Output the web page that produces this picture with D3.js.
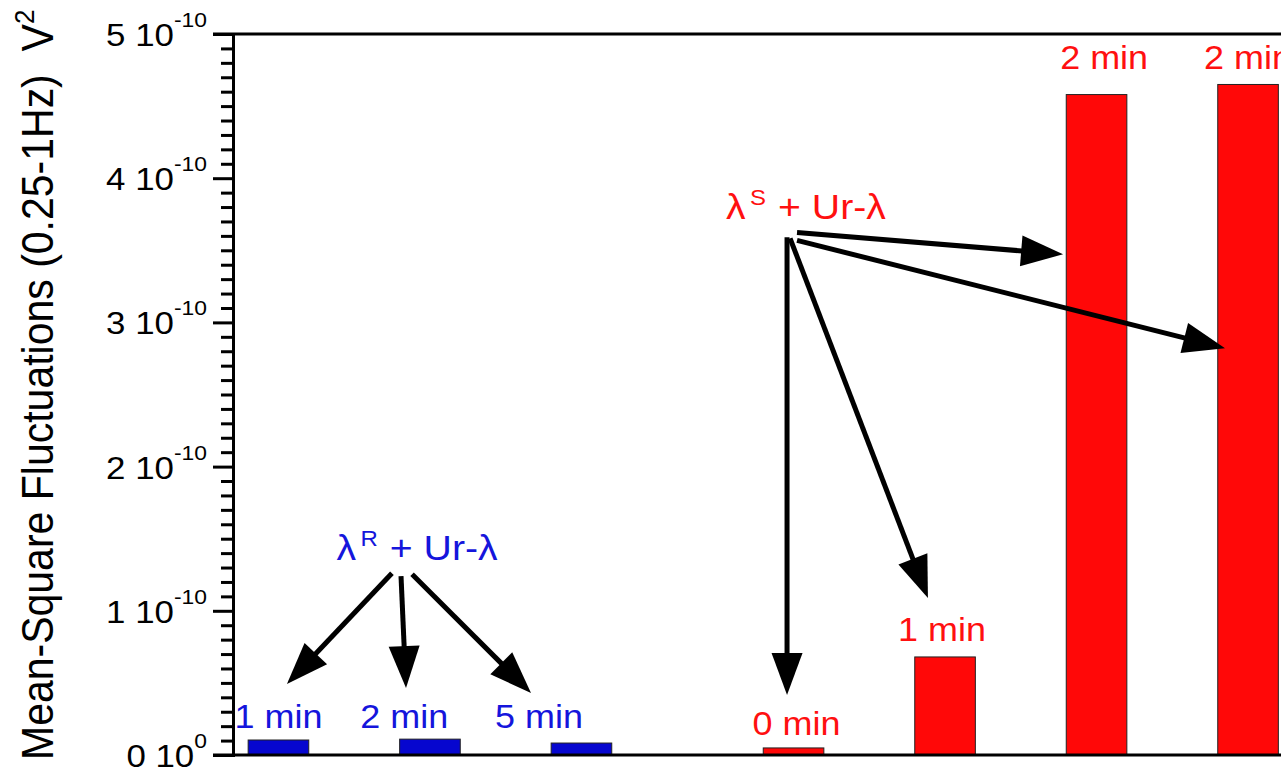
<!DOCTYPE html>
<html>
<head>
<meta charset="utf-8">
<script src="https://cdn.jsdelivr.net/npm/d3@7"></script>
<style>
  html, body { margin: 0; padding: 0; background: #fff; }
  svg { display: block; font-family: "Liberation Sans", Arial, sans-serif; }
</style>
</head>
<body>
<svg id="chart" width="1281" height="767"></svg>
<script>
// Group A: λR + Ur-λ (blue)
const blueTimes = ["1 min", "2 min", "5 min"];
const bluePos = [1, 2, 3];
const blueValues = [1.04e-11, 1.10e-11, 0.83e-11];
const blueLabelPos = [1.0, 1.83, 2.72];
const blueLabelY = [1.87e-11, 1.87e-11, 1.87e-11];

// Group B: λS + Ur-λ (red)
const redTimes = ["0 min", "1 min", "2 min", "2 min"];
const redPos = [4.4, 5.4, 6.4, 7.4];
const redValues = [0.49e-11, 6.8e-11, 4.58e-10, 4.65e-10];
const redLabelPos = [4.42, 5.38, 6.45, 7.40];
const redLabelY = [1.39e-11, 7.9e-11, 4.754e-10, 4.754e-10];

// Y axis ticks
const yTicks = [0, 1e-10, 2e-10, 3e-10, 4e-10, 5e-10];
const yTickMant = ["0", "1", "2", "3", "4", "5"];
const yTickExp = ["0", "-10", "-10", "-10", "-10", "-10"];
const yMinorTicks = d3.range(0, 51).map(i => i * 1e-11).filter((v, i) => i % 10 !== 0);

// Annotation arrows [fromPos, fromValue, toPos, toValue]
const blueArrows = [
  [1.749, 1.261e-10, 1.056, 0.492e-10],
  [1.809, 1.240e-10, 1.842, 0.464e-10],
  [1.882, 1.254e-10, 2.667, 0.430e-10]
];
const redArrows = [
  [4.423, 3.624e-10, 6.179, 3.472e-10],
  [4.423, 3.569e-10, 7.248, 2.821e-10],
  [4.377, 3.583e-10, 5.287, 1.088e-10],
  [4.357, 3.590e-10, 4.357, 0.416e-10]
];
// Group caption anchors [pos, value]
const blueCaption = [1.915, 1.351e-10];
const redCaption = [4.482, 3.72e-10];

const BLUE_BAR = "#0606cf", BLUE_TXT = "#1515dc";
const RED_BAR = "#ff0808", RED_TXT = "#ff1010";
const SX = 1.09; // horizontal glyph stretch

const svg = d3.select("#chart");
const W = 1281, H = 767;
const axisX = 233, plotTop = 34, plotBottom = 755;

const x = d3.scaleLinear().domain([0.7, 8]).range([axisX, axisX + 7.3 * 151.5]);
const y = d3.scaleLinear().domain([0, 5e-10]).range([plotBottom, plotTop]);
const barW = x(1.4) - x(1.0);

svg.append("rect").attr("width", W).attr("height", H).attr("fill", "#fff");

// bars
function drawBars(pos, vals, color) {
  svg.append("g").selectAll("rect").data(vals).join("rect")
    .attr("x", (d, i) => x(pos[i]) - barW / 2)
    .attr("y", d => y(d))
    .attr("width", barW)
    .attr("height", d => y(0) - y(d))
    .attr("fill", color)
    .attr("stroke", "#222")
    .attr("stroke-width", 1);
}
drawBars(bluePos, blueValues, BLUE_BAR);
drawBars(redPos, redValues, RED_BAR);

// frame lines (top and bottom)
svg.append("line").attr("x1", axisX - 20).attr("x2", W + 5)
  .attr("y1", plotTop).attr("y2", plotTop).attr("stroke", "#000").attr("stroke-width", 3);
svg.append("line").attr("x1", axisX - 20).attr("x2", W + 5)
  .attr("y1", plotBottom).attr("y2", plotBottom).attr("stroke", "#000").attr("stroke-width", 3);

// y axis: major and minor ticks
const gMajor = svg.append("g").attr("transform", `translate(${axisX},0)`)
  .call(d3.axisLeft(y).tickValues(yTicks).tickSize(20).tickSizeOuter(0).tickFormat(""));
const gMinor = svg.append("g").attr("transform", `translate(${axisX},0)`)
  .call(d3.axisLeft(y).tickValues(yMinorTicks).tickSize(12).tickSizeOuter(0).tickFormat(""));
[gMajor, gMinor].forEach(g => {
  g.selectAll("path").attr("stroke", "#000").attr("stroke-width", 3).attr("stroke-linecap", "square");
  g.selectAll("line").attr("stroke", "#000").attr("stroke-width", 3);
});

// y tick labels: mantissa 10^exp
const tl = svg.append("g").selectAll("text").data(yTicks).join("text")
  .attr("transform", d => `translate(207,${y(d) + 12}) scale(${SX},1)`)
  .attr("text-anchor", "end")
  .attr("font-size", 32)
  .attr("fill", "#000");
tl.append("tspan").text((d, i) => yTickMant[i] + " 10");
tl.append("tspan").attr("dy", -19).attr("font-size", 21).text((d, i) => yTickExp[i]);

// y axis title
const yt = svg.append("text")
  .attr("transform", `translate(53,760) scale(${SX},1) rotate(-90)`)
  .attr("text-anchor", "start")
  .attr("font-size", 41)
  .attr("fill", "#000");
yt.append("tspan").text("Mean-Square Fluctuations (0.25-1Hz)\u00a0\u00a0V");
yt.append("tspan").attr("dy", -17).attr("font-size", 26).text("2");

// time labels over bars
function drawLabels(labels, lx, ly, color) {
  svg.append("g").selectAll("text").data(labels).join("text")
    .attr("transform", (d, i) => `translate(${x(lx[i])},${y(ly[i])}) scale(${SX},1)`)
    .attr("text-anchor", "middle")
    .attr("font-size", 33)
    .attr("fill", color)
    .text(d => d);
}
drawLabels(blueTimes, blueLabelPos, blueLabelY, BLUE_TXT);
drawLabels(redTimes, redLabelPos, redLabelY, RED_TXT);

// group captions
function caption(c, sup, color) {
  const t = svg.append("text")
    .attr("transform", `translate(${x(c[0])},${y(c[1])}) scale(${SX},1)`)
    .attr("text-anchor", "middle")
    .attr("font-size", 36)
    .attr("fill", color);
  t.append("tspan").text("λ");
  t.append("tspan").attr("dx", 4).attr("dy", -14).attr("font-size", 22).text(sup);
  t.append("tspan").attr("dx", 11).attr("dy", 14).text("+ Ur-λ");
}
caption(blueCaption, "R", BLUE_TXT);
caption(redCaption, "S", RED_TXT);

// arrows
function drawArrows(list) {
  const g = svg.append("g");
  list.forEach(a => {
    const x1 = x(a[0]), y1 = y(a[1]), x2 = x(a[2]), y2 = y(a[3]);
    const dx = x2 - x1, dy = y2 - y1, L = Math.hypot(dx, dy);
    const ux = dx / L, uy = dy / L;
    const headL = 42, headW = 31;
    const bx = x2 - ux * headL, by = y2 - uy * headL;
    g.append("line")
      .attr("x1", x1).attr("y1", y1)
      .attr("x2", bx + ux * 4).attr("y2", by + uy * 4)
      .attr("stroke", "#000").attr("stroke-width", 5);
    const px = -uy, py = ux;
    g.append("path")
      .attr("d", `M${x2},${y2}L${bx + px * headW / 2},${by + py * headW / 2}L${bx - px * headW / 2},${by - py * headW / 2}Z`)
      .attr("fill", "#000");
  });
}
drawArrows(blueArrows);
drawArrows(redArrows);
</script>
</body>
</html>
